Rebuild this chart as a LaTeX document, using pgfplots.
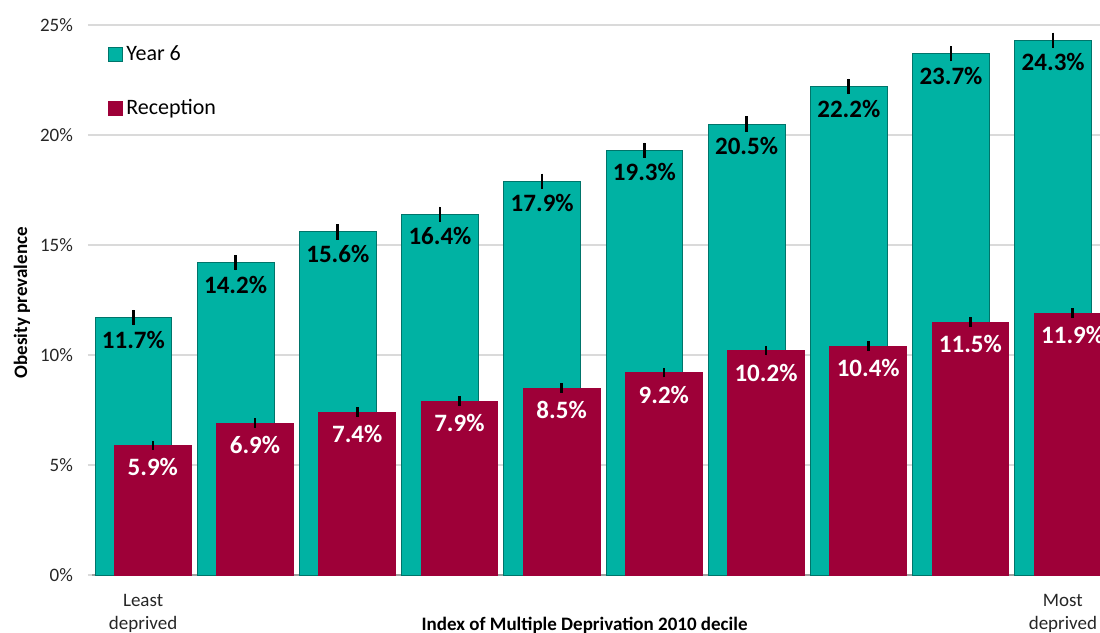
\documentclass[border=0pt]{standalone}
\usepackage{fontspec}
\setmainfont{Carlito}
\usepackage{pgfplots}
\usepackage{pgfplotstable}
\pgfplotsset{compat=1.18}
\definecolor{yearsix}{RGB}{0,178,163}
\definecolor{recep}{RGB}{158,0,56}
\definecolor{gridgray}{RGB}{218,218,218}
\definecolor{axisgray}{RGB}{160,160,160}

% obesity prevalence (%) by IMD decile, with 95% CI half-widths
\pgfplotstableread{
decile year6 y6err recep recerr
1  11.7 0.35 5.9  0.20
2  14.2 0.35 6.9  0.22
3  15.6 0.35 7.4  0.22
4  16.4 0.35 7.9  0.22
5  17.9 0.35 8.5  0.22
6  19.3 0.35 9.2  0.22
7  20.5 0.35 10.2 0.22
8  22.2 0.35 10.4 0.22
9  23.7 0.35 11.5 0.22
10 24.3 0.35 11.9 0.22
}\obesity

\pgfplotsset{
  squarelegend/.style={legend image code/.code={
    \filldraw[##1] (0pt,-3.5pt) rectangle (7pt,3.5pt);}},
}

\begin{document}
\begin{tikzpicture}
\useasboundingbox (-46pt,-29pt) rectangle (504pt,287.5pt);
\clip (-46pt,-29pt) rectangle (504pt,287.5pt);
\begin{axis}[
  scale only axis, width=511pt, height=275pt,
  ybar, bar width=0.75,
  xmin=0.5, xmax=10.5, ymin=0, ymax=25,
  axis x line*=bottom, axis y line*=left,
  x axis line style={axisgray, line width=0.8pt},
  y axis line style={draw=none},
  /pgf/number format/assume math mode=true,
  ytick={0,5,...,25},
  yticklabel={\pgfmathprintnumber{\tick}\%},
  ymajorgrids, major grid style={gridgray, line width=0.8pt},
  tick align=outside, major tick length=2pt, minor tick length=2.5pt,
  ytick style={gridgray, line width=0.8pt},
  xtick={1,10}, xticklabels={Least\\deprived, Most\\deprived},
  xtick style={draw=none},
  minor xtick={0.5,1.5,...,10.5},
  minor x tick style={axisgray, line width=0.8pt},
  ticklabel style={font=\fontsize{9.5}{11.5}\selectfont, text=black!85},
  xticklabel style={align=center, yshift=-4pt},
  yticklabel style={xshift=-4pt},
  xlabel={Index of Multiple Deprivation 2010 decile},
  ylabel={Obesity prevalence},
  xlabel style={at={(axis description cs:0.482,-0.091)}, anchor=center,
    font=\fontsize{9.5}{11}\selectfont\bfseries},
  ylabel style={at={(axis description cs:-0.0685,0.495)}, anchor=center,
    font=\fontsize{9.5}{11}\selectfont\bfseries},
  nodes near coords={\pgfmathprintnumber[fixed,fixed zerofill,precision=1]{\pgfplotspointmeta}\%},
  every node near coord/.append style={font=\fontsize{12.5}{14}\selectfont\bfseries,
    anchor=center, yshift=-11pt},
  legend style={at={(rel axis cs:0.009,0.978)}, anchor=north west, draw=none,
    fill=none, font=\fontsize{11}{13}\selectfont, row sep=14pt},
  legend cell align=left,
]
\addplot[squarelegend, fill=yearsix, draw=yearsix!65!black, line width=0.4pt,
  bar shift=-0.095,
  every node near coord/.append style={text=black},
  error bars/.cd, y dir=both, y explicit, error mark=none,
  error bar style={black, line width=1.3pt}]
  table[x=decile, y=year6, y error=y6err]{\obesity};
\addlegendentry{Year 6}
\addplot[squarelegend, fill=recep, draw=recep, line width=0.4pt,
  bar shift=0.095,
  every node near coord/.append style={text=white},
  error bars/.cd, y dir=both, y explicit, error mark=none,
  error bar style={black, line width=1.3pt}]
  table[x=decile, y=recep, y error=recerr]{\obesity};
\addlegendentry{Reception}
\end{axis}
\end{tikzpicture}
\end{document}
